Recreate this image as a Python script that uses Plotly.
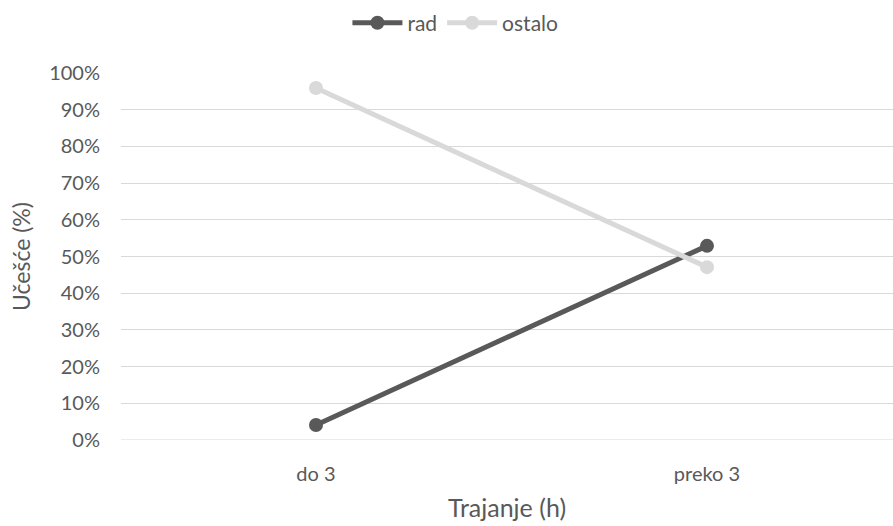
import plotly.graph_objects as go

# Share of time by duration category
categories = ["do 3", "preko 3"]
rad = [0.041, 0.529]
ostalo = [0.959, 0.471]
y_ticks = [i / 10 for i in range(11)]
y_tick_labels = [f"{i * 10}%" for i in range(11)]

font_family = "Lato, 'Open Sans', sans-serif"
text_color = "#595959"

fig = go.Figure()
fig.add_trace(go.Scatter(
    x=categories, y=rad, name="rad", mode="lines+markers",
    line=dict(color="#595959", width=5),
    marker=dict(color="#595959", size=14),
))
fig.add_trace(go.Scatter(
    x=categories, y=ostalo, name="ostalo", mode="lines+markers",
    line=dict(color="#d9d9d9", width=5),
    marker=dict(color="#d9d9d9", size=14),
))

fig.update_layout(
    width=893, height=526,
    margin=dict(l=121, r=0, t=73, b=86),
    paper_bgcolor="white", plot_bgcolor="white",
    font=dict(family=font_family, size=20, color=text_color),
    legend=dict(orientation="h", x=0.51, xanchor="center", xref="container",
                y=0.995, yanchor="top", yref="container",
                font=dict(size=21, color=text_color),
                itemwidth=50, traceorder="normal"),
    showlegend=True,
)

fig.update_xaxes(
    type="category", range=[-0.4987, 1.4757],
    showgrid=False, showline=False, zeroline=False, ticks="",
    ticklabelstandoff=20,
    title=dict(text="Trajanje (h)", font=dict(size=25, color=text_color), standoff=15),
    tickfont=dict(size=20, color=text_color),
)
fig.update_yaxes(
    range=[0, 1.0], tickvals=y_ticks, ticktext=y_tick_labels,
    showgrid=True, gridcolor="#d9d9d9", gridwidth=1,
    zeroline=False, showline=False, ticks="",
    ticklabelstandoff=20,
    title=dict(text="Učešće (%)", font=dict(size=23, color=text_color), standoff=12),
    tickfont=dict(size=20, color=text_color),
)
# bottom gridline at 0%
fig.add_shape(type="line", xref="paper", yref="y", x0=0, x1=1, y0=0, y1=0,
              line=dict(color="#d9d9d9", width=1), layer="below")

fig.write_html("out.html")
